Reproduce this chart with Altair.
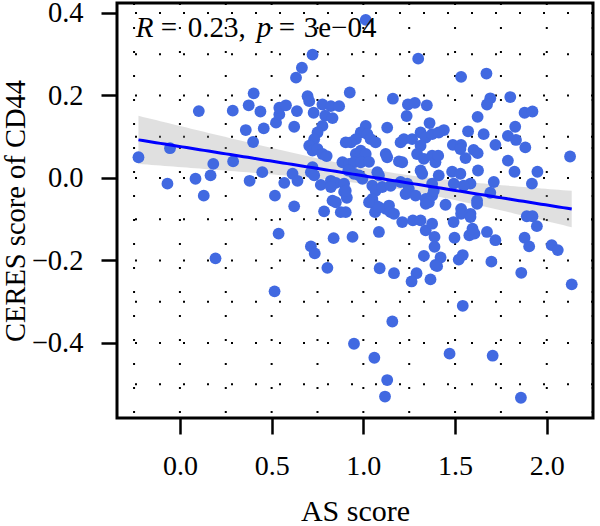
import altair as alt
import pandas as pd
import numpy as np

as_score = [
    -0.226, -0.068, -0.054, 0.085, 0.130, 0.103, 0.167, 0.182, 0.194, 0.290,
    0.288, 0.380, 0.449, 0.359, 0.399, 0.457, 0.375, 0.439, 0.402, 0.518,
    0.524, 0.542, 0.542, 0.578, 0.638, 0.623, 0.633, 0.665, 0.723, 0.696,
    0.705, 0.569, 0.614, 0.641, 0.623, 0.538, 0.516, 0.714, 0.735, 0.804,
    0.838, 0.941, 0.786, 0.832, 0.895, 0.910, 0.877, 0.904, 0.768, 0.823,
    0.850, 0.949, 1.013, 1.299, 0.926, 1.161, 0.777, 0.823, 0.868, 0.729,
    0.792, 0.832, 1.243, 1.281, 1.346, 1.236, 0.777, 0.750, 0.732, 1.130,
    1.361, 1.013, 0.986, 1.022, 1.040, 0.959, 0.932, 0.904, 0.705, 0.723,
    0.750, 0.777, 0.800, 1.067, 1.203, 1.221, 1.266, 1.312, 1.340, 1.375,
    1.312, 1.293, 0.959, 0.986, 1.013, 1.122, 1.130, 0.886, 0.922, 0.949,
    0.986, 1.031, 1.194, 1.212, 1.330, 1.375, 1.393, 0.723, 0.714, 0.732,
    0.918, 0.949, 0.977, 0.995, 1.076, 1.085, 1.312, 1.321, 0.823, 0.895,
    0.904, 1.049, 1.067, 1.103, 1.149, 1.203, 1.239, 1.248, 0.850, 1.049,
    1.067, 1.031, 1.122, 1.140, 1.230, 1.285, 1.340, 1.375, 1.384, 1.357,
    1.064, 1.085, 1.149, 1.167, 1.085, 1.212, 1.270, 1.312, 1.340, 1.375,
    1.388, 1.388, 1.330, 1.393, 1.089, 1.167, 1.290, 1.263, 1.366, 1.158,
    1.060, 1.130, 1.118, 1.340, 1.448, 1.533, 1.533, 1.584, 1.584, 1.620,
    1.492, 1.497, 1.578, 1.606, 1.595, 1.674, 1.720, 1.421, 1.402, 1.520,
    1.542, 1.698, 1.891, 1.922, 1.946, 1.879, 1.904, 2.027, 2.060, 1.861,
    2.136, 1.542, 1.470, 1.705, 1.859, 1.533, 1.671, 1.692, 1.674, 1.801,
    1.879, 1.922, 1.623, 1.828, 1.571, 1.656, 1.439, 1.411, 1.788, 1.832,
    1.720, 1.883, 1.488, 1.533, 1.529, 1.601, 1.623, 1.557, 1.408, 1.788,
    2.127, 1.625, 1.824, 1.949, 1.919, 1.711, 1.692, 1.484, 1.529, 1.411,
    1.584, 1.547, 1.493, 1.620, 1.375,
]

ceres_cd44 = [
    0.050, -0.014, 0.072, -0.002, -0.043, 0.162, 0.006, 0.034, -0.195, 0.040,
    0.163, -0.007, 0.014, 0.116, 0.087, 0.120, 0.176, 0.161, 0.205, -0.043,
    0.134, 0.154, 0.170, 0.176, 0.162, 0.124, 0.243, 0.267, 0.299, 0.198,
    0.186, -0.012, 0.010, -0.007, -0.069, -0.135, -0.275, -0.166, -0.183, -0.218,
    -0.146, -0.143, -0.081, -0.055, -0.034, -0.048, -0.083, -0.083, -0.017, -0.007,
    -0.012, -0.402, 0.383, 0.289, 0.207, 0.192, 0.178, 0.174, 0.174, 0.158,
    0.151, 0.145, 0.178, 0.182, 0.176, 0.150, 0.126, 0.110, 0.094, 0.122,
    0.133, 0.126, 0.110, 0.106, 0.094, 0.094, 0.086, 0.086, 0.078, 0.066,
    0.070, 0.058, 0.053, 0.086, 0.086, 0.094, 0.094, 0.110, 0.098, 0.106,
    0.078, 0.058, 0.058, 0.066, 0.058, 0.058, 0.050, 0.038, 0.034, 0.038,
    0.038, 0.039, 0.040, 0.038, 0.046, 0.054, 0.038, 0.026, 0.014, 0.006,
    0.018, 0.010, 0.006, -0.002, 0.014, 0.006, 0.018, 0.010, -0.022, -0.014,
    -0.031, -0.019, -0.031, -0.022, -0.019, -0.010, -0.014, -0.027, -0.059, -0.051,
    -0.067, -0.059, -0.075, -0.067, -0.039, -0.043, -0.051, -0.043, -0.031, -0.059,
    -0.083, -0.071, -0.083, -0.087, -0.131, -0.107, -0.103, -0.103, -0.127, -0.111,
    -0.143, -0.167, -0.189, -0.211, -0.219, -0.231, -0.231, -0.251, -0.246, -0.348,
    -0.436, -0.490, -0.530, -0.063, -0.065, -0.075, -0.087, -0.087, -0.095, -0.063,
    -0.107, -0.145, -0.139, -0.135, -0.123, -0.131, -0.151, -0.193, -0.214, -0.198,
    -0.187, -0.203, -0.093, -0.093, -0.117, -0.145, -0.166, -0.163, -0.175, -0.230,
    -0.258, -0.310, -0.426, -0.431, -0.533, 0.245, 0.253, 0.193, 0.178, 0.196,
    0.158, 0.161, 0.148, 0.124, 0.113, 0.106, 0.116, 0.110, 0.102, 0.092,
    0.080, 0.074, 0.080, 0.080, 0.070, 0.068, 0.060, 0.048, 0.054, 0.042,
    0.052, 0.018, 0.015, 0.015, -0.014, -0.010, -0.036, 0.015, 0.010, 0.006,
    -0.014, -0.019, -0.014, -0.055, -0.014,
]

x_ticks = [0.0, 0.5, 1.0, 1.5, 2.0]
y_ticks = [-0.4, -0.2, 0.0, 0.2, 0.4]
x_grid = [-0.25, 0.0, 0.25, 0.5, 0.75, 1.0, 1.25, 1.5, 1.75, 2.0, 2.25]
y_grid = [-0.5, -0.4, -0.3, -0.2, -0.1, 0.0, 0.1, 0.2, 0.3, 0.4]
x_domain = [-0.343, 2.252]
y_domain = [-0.582, 0.424]

ann_pieces = ["R", "=", "0.23,", "p", "=", "3e\u221204"]
ann_style = ["italic", "normal", "normal", "italic", "normal", "normal"]
ann_dx = [0, 25, 52, 121, 143, 168]
ann_x = -0.241
ann_y = 0.342

FONT = "Liberation Serif"

df = pd.DataFrame({"as_score": as_score, "ceres": ceres_cd44})

# linear fit with 95% confidence band
x = np.array(as_score)
y = np.array(ceres_cd44)
n = len(x)
slope, intercept = np.polyfit(x, y, 1)
xs = np.linspace(x.min(), x.max(), 100)
yhat = intercept + slope * xs
resid = y - (intercept + slope * x)
s = np.sqrt((resid ** 2).sum() / (n - 2))
se = s * np.sqrt(1.0 / n + (xs - x.mean()) ** 2 / ((x - x.mean()) ** 2).sum())
fit = pd.DataFrame({"as_score": xs, "fit": yhat, "lo": yhat - 1.97 * se, "hi": yhat + 1.97 * se})

xscale = alt.Scale(domain=x_domain, nice=False, zero=False)
yscale = alt.Scale(domain=y_domain, nice=False, zero=False)

xaxis = alt.Axis(
    values=x_ticks, format=".1f", title="AS score", grid=False, domain=False,
    tickColor="black", tickWidth=2.5, tickSize=16,
    labelFont=FONT, labelFontSize=28, labelColor="black", labelPadding=18,
    titleFont=FONT, titleFontSize=30, titleFontWeight="normal", titleColor="black",
    titlePadding=16,
)
yaxis = alt.Axis(
    values=y_ticks, format=".1f", title="CERES score of CD44", grid=False, domain=False,
    tickColor="black", tickWidth=2.5, tickSize=16,
    labelFont=FONT, labelFontSize=28.5, labelColor="black", labelPadding=18,
    titleFont=FONT, titleFontSize=28.5, titleFontWeight="normal", titleColor="black",
    titlePadding=1,
)

vgrid = alt.Chart(pd.DataFrame({"as_score": x_grid})).mark_rule(
    color="black", strokeWidth=2, strokeDash=[2, 22]
).encode(x=alt.X("as_score:Q", scale=xscale, axis=xaxis))

hgrid = alt.Chart(pd.DataFrame({"ceres": y_grid})).mark_rule(
    color="black", strokeWidth=2, strokeDash=[2, 22]
).encode(y=alt.Y("ceres:Q", scale=yscale, axis=yaxis))

band = alt.Chart(fit).mark_area(color="#999999", opacity=0.3).encode(
    x=alt.X("as_score:Q", scale=xscale, axis=xaxis),
    y=alt.Y("lo:Q", scale=yscale, axis=yaxis),
    y2="hi:Q",
)

points = alt.Chart(df).mark_circle(color="#4169E1", size=140, opacity=1).encode(
    x=alt.X("as_score:Q", scale=xscale, axis=xaxis),
    y=alt.Y("ceres:Q", scale=yscale, axis=yaxis),
)

line = alt.Chart(fit).mark_line(color="#0000FF", strokeWidth=3).encode(
    x=alt.X("as_score:Q", scale=xscale, axis=xaxis),
    y=alt.Y("fit:Q", scale=yscale, axis=yaxis),
)

ann_df = pd.DataFrame({"as_score": [ann_x], "ceres": [ann_y]})
ann_layers = []
for txt, sty, dx in zip(ann_pieces, ann_style, ann_dx):
    ann_layers.append(
        alt.Chart(ann_df).mark_text(
            text=txt, font=FONT, fontSize=29, fontStyle=sty, color="black",
            align="left", baseline="alphabetic", dx=dx,
        ).encode(
            x=alt.X("as_score:Q", scale=xscale, axis=xaxis),
            y=alt.Y("ceres:Q", scale=yscale, axis=yaxis),
        )
    )

chart = alt.layer(vgrid, hgrid, band, points, line, *ann_layers).properties(
    width=476, height=415,
    padding={"left": 117, "top": 3, "right": 7, "bottom": 108},
    autosize="none",
    background="white",
).configure_view(stroke="black", strokeWidth=3)

chart.save("out.html", embed_options={"renderer": "svg", "actions": False})
